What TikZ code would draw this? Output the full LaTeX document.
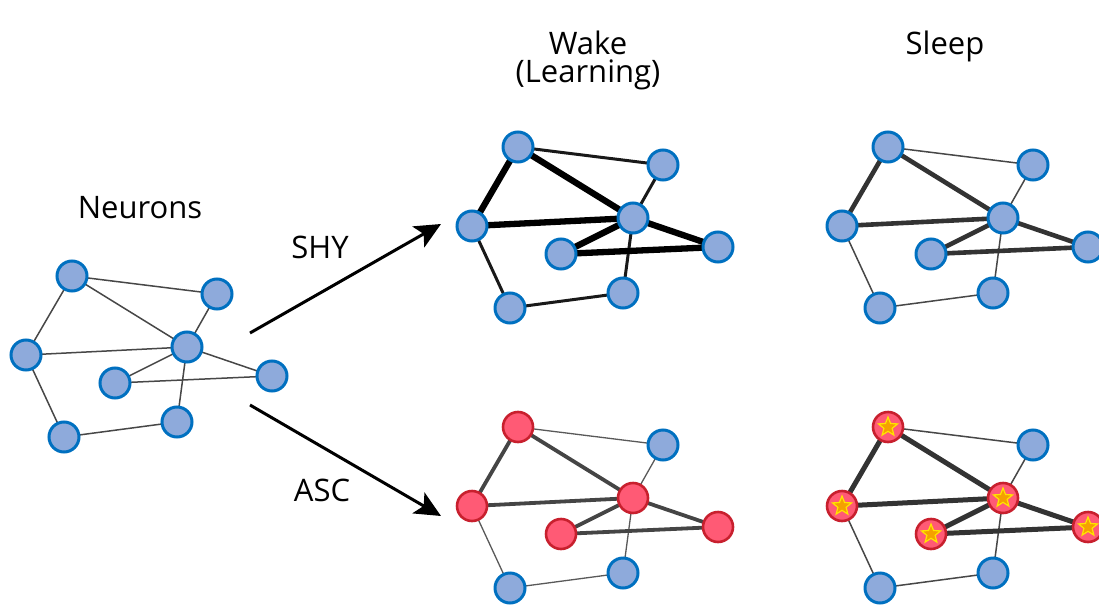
\documentclass[tikz,border=0pt]{standalone}
\usepackage{fontspec}
\setmainfont{Open Sans}
\usetikzlibrary{shapes.geometric,arrows.meta,backgrounds}
\definecolor{nfill}{HTML}{8EAADB}
\definecolor{nborder}{HTML}{0070C0}
\definecolor{rfill}{HTML}{FF5A75}
\definecolor{rborder}{HTML}{C8202E}
\definecolor{starfill}{HTML}{F5A000}
\definecolor{starline}{HTML}{FFE400}
\tikzset{
  neu/.style={circle, draw=nborder, fill=nfill, line width=3pt, minimum size=30pt, inner sep=0pt},
  act/.style={circle, draw=rborder, fill=rfill, line width=2.6pt, minimum size=30pt, inner sep=0pt},
  starmark/.style={star, star points=5, star point ratio=2.3, fill=starfill, draw=starline, line width=1.2pt, minimum size=20pt, inner sep=0pt},
  lbl/.style={font=\fontsize{31}{28}\selectfont, inner sep=0pt, align=center},
  arr/.style={line width=3pt, -{Stealth[length=26pt, width=24pt, inset=6pt]}},
  nthin/.style={line width=1.5pt, draw=black!72},
  wthick/.style={line width=6.3pt, draw=black},
  wthin/.style={line width=3pt, draw=black!90},
  sthick/.style={line width=4.6pt, draw=black!80},
  sthin/.style={line width=1.5pt, draw=black!72},
  athick/.style={line width=3.8pt, draw=black!73},
  athin/.style={line width=1.3pt, draw=black!65},
  zthick/.style={line width=5pt, draw=black!80},
  zthin/.style={line width=1.5pt, draw=black!72},
}
\begin{document}
\begin{tikzpicture}[x=1pt,y=-1pt]
\useasboundingbox (0,0) rectangle (1099,607);
% ---------- Neurons ----------
\begin{scope}[shift={(-446,129)}]
\node[neu] (nA) at (518,147) {};
\node[neu] (nB) at (663,165) {};
\node[neu] (nC) at (633,218) {};
\node[neu] (nD) at (472,226) {};
\node[neu] (nE) at (561,254) {};
\node[neu] (nF) at (718,247) {};
\node[neu] (nG) at (510,308) {};
\node[neu] (nH) at (623,293) {};
\end{scope}
% ---------- Wake ----------
\node[neu] (wA) at (518,147) {};
\node[neu] (wB) at (663,165) {};
\node[neu] (wC) at (633,218) {};
\node[neu] (wD) at (472,226) {};
\node[neu] (wE) at (561,254) {};
\node[neu] (wF) at (718,247) {};
\node[neu] (wG) at (510,308) {};
\node[neu] (wH) at (623,293) {};
% ---------- Sleep ----------
\begin{scope}[shift={(370,0)}]
\node[neu] (sA) at (518,147) {};
\node[neu] (sB) at (663,165) {};
\node[neu] (sC) at (633,218) {};
\node[neu] (sD) at (472,226) {};
\node[neu] (sE) at (561,254) {};
\node[neu] (sF) at (718,247) {};
\node[neu] (sG) at (510,308) {};
\node[neu] (sH) at (623,293) {};
\end{scope}
% ---------- ASC wake ----------
\begin{scope}[shift={(0,280)}]
\node[act] (aA) at (518,147) {};
\node[neu] (aB) at (663,165) {};
\node[act] (aC) at (633,218) {};
\node[act] (aD) at (472,226) {};
\node[act] (aE) at (561,254) {};
\node[act] (aF) at (718,247) {};
\node[neu] (aG) at (510,308) {};
\node[neu] (aH) at (623,293) {};
\end{scope}
% ---------- ASC sleep ----------
\begin{scope}[shift={(370,280)}]
\node[act] (zA) at (518,147) {};
\node[neu] (zB) at (663,165) {};
\node[act] (zC) at (633,218) {};
\node[act] (zD) at (472,226) {};
\node[act] (zE) at (561,254) {};
\node[act] (zF) at (718,247) {};
\node[neu] (zG) at (510,308) {};
\node[neu] (zH) at (623,293) {};
\end{scope}
\foreach \n in {A,C,D,E,F}{
  \node[starmark] (star\n) at (z\n.center) {};
}
% ---------- edges ----------
\begin{pgfonlayer}{background}
\foreach \p/\q in {A/B,A/C,A/D,D/C,D/G,G/H,H/C,C/B,C/E,C/F,E/F}{
  \draw[nthin] (n\p.center) -- (n\q.center);
}
\foreach \p/\q in {A/B,D/G,G/H,H/C,C/B}{
  \draw[wthin] (w\p.center) -- (w\q.center);
  \draw[sthin] (s\p.center) -- (s\q.center);
  \draw[athin] (a\p.center) -- (a\q.center);
  \draw[zthin] (z\p.center) -- (z\q.center);
}
\foreach \p/\q in {A/D,A/C,D/C,C/E,C/F,E/F}{
  \draw[wthick] (w\p.center) -- (w\q.center);
  \draw[sthick] (s\p.center) -- (s\q.center);
  \draw[athick] (a\p.center) -- (a\q.center);
  \draw[zthick] (z\p.center) -- (z\q.center);
}
\end{pgfonlayer}
% ---------- arrows ----------
\coordinate (shy0) at (250,333);
\coordinate (shy1) at (441,224);
\coordinate (asc0) at (250,405);
\coordinate (asc1) at (441,516);
\draw[arr] (shy0) -- (shy1);
\draw[arr] (asc0) -- (asc1);
% ---------- labels ----------
\node[lbl] (tneu) at (140,208) {Neurons};
\node[lbl] (tshy) at (320,247) {SHY};
\node[lbl] (tasc) at (322,490) {ASC};
\node[lbl] (twake) at (588,60) {Wake\\(Learning)};
\node[lbl] (tsleep) at (945,46) {Sleep};
\end{tikzpicture}
\end{document}
